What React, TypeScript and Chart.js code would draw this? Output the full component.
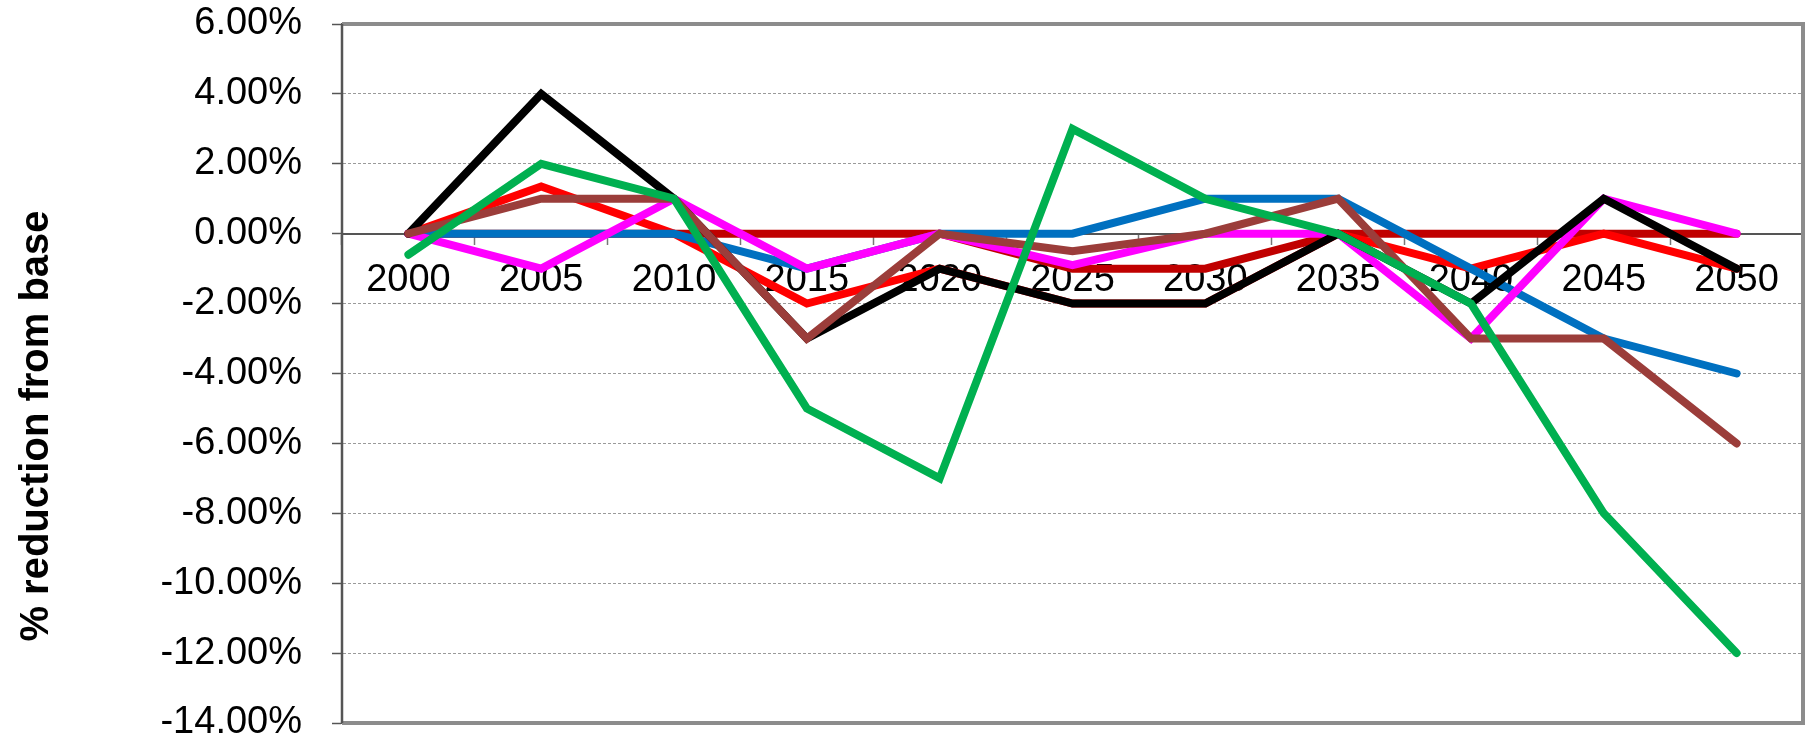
import React, { useEffect, useRef } from "react";
import { Chart, registerables } from "chart.js";

Chart.register(...registerables);

const years = ["2000", "2005", "2010", "2015", "2020", "2025", "2030", "2035", "2040", "2045", "2050"];
const darkRedSeries = [0, 0, 0, 0, 0, -1, -1, 0, 0, 0, 0];
const redSeries = [0, 1.35, 0, -2, -1, -2, -2, 0, -1, 0, -1];
const blueSeries = [0, 0, 0, -1, 0, 0, 1, 1, -1, -3, -4];
const magentaSeries = [0, -1, 1, -1, 0, -0.9, 0, 0, -3, 1, 0];
const blackSeries = [0, 4, 1, -3, -1, -2, -2, 0, -2, 1, -1];
const brownSeries = [0, 1, 1, -3, 0, -0.5, 0, 1, -3, -3, -6];
const greenSeries = [-0.6, 2, 1, -5, -7, 3, 1, 0, -2, -8, -12];

const yMin = -14;
const yMax = 6;
const yStep = 2;
const yTitle = "% reduction from base";

const FONT = "'Liberation Sans', Arial, Helvetica, sans-serif";

const frame = {
  id: "frame",
  beforeDatasetsDraw(chart: any) {
    const { ctx, chartArea } = chart;
    const { left, right, top, bottom } = chartArea;
    ctx.save();
    ctx.strokeStyle = "#8c8c8c";
    ctx.lineWidth = 4;
    ctx.beginPath();
    ctx.moveTo(left, top);
    ctx.lineTo(right, top);
    ctx.lineTo(right, bottom);
    ctx.lineTo(left, bottom);
    ctx.stroke();
    ctx.strokeStyle = "#555555";
    ctx.lineWidth = 2.5;
    ctx.beginPath();
    ctx.moveTo(left, top);
    ctx.lineTo(left, bottom);
    ctx.stroke();
    ctx.restore();
  },
  afterDraw(chart: any) {
    const { ctx } = chart;
    ctx.save();
    ctx.translate(37, 426);
    ctx.rotate(-Math.PI / 2);
    ctx.font = `bold 40px ${FONT}`;
    ctx.fillStyle = "#000000";
    ctx.textAlign = "center";
    ctx.textBaseline = "middle";
    ctx.fillText(yTitle, 0, 0);
    ctx.restore();
  },
};

export default function App() {
  const ref = useRef<HTMLCanvasElement | null>(null);

  useEffect(() => {
    if (!ref.current) return;
    const mk = (data: number[], color: string) => ({
      data,
      borderColor: color,
      backgroundColor: color,
      borderWidth: 8,
      pointRadius: 0,
      tension: 0,
      fill: false,
      borderCapStyle: "round" as const,
      borderJoinStyle: "miter" as const,
    });
    const chart = new Chart(ref.current, {
      type: "line",
      data: {
        labels: years,
        datasets: [
          mk(greenSeries, "#00B050"),
          mk(brownSeries, "#9B3D3A"),
          mk(blackSeries, "#000000"),
          mk(magentaSeries, "#FF00FF"),
          mk(blueSeries, "#0070C0"),
          mk(redSeries, "#FF0000"),
          mk(darkRedSeries, "#C00000"),
        ],
      },
      options: {
        animation: false,
        responsive: true,
        maintainAspectRatio: false,
        layout: { padding: { left: 0, top: 24, right: 2, bottom: 18 } },
        plugins: {
          legend: { display: false },
          title: { display: false },
          tooltip: { enabled: false },
        },
        scales: {
          x: {
            type: "category",
            position: { y: 0 } as any,
            offset: true,
            grid: {
              offset: true,
              drawOnChartArea: false,
              drawTicks: true,
              tickLength: 10,
              tickColor: "#777777",
              tickWidth: 1.5,
            },
            border: { display: true, color: "#555555", width: 2 },
            ticks: {
              color: "#000000",
              font: { family: FONT, size: 38 },
              padding: 14,
              maxRotation: 0,
              autoSkip: false,
            },
            afterFit: (s: any) => {
              s.paddingLeft = 0;
              s.paddingRight = 0;
            },
          },
          y: {
            min: yMin,
            max: yMax,
            position: "left",
            grid: {
              color: "#9a9a9a",
              lineWidth: 1,
              drawTicks: true,
              tickLength: 10,
              tickColor: "#555555",
              tickWidth: 1.5,
              tickBorderDash: [],
            },
            border: { display: true, color: "#555555", width: 2, dash: [3, 2] },
            ticks: {
              stepSize: yStep,
              color: "#000000",
              font: { family: FONT, size: 38 },
              padding: 30,
              callback: (v: any) => Number(v).toFixed(2) + "%",
            },
            afterFit: (s: any) => {
              s.width = 342;
              s.paddingTop = 0;
              s.paddingBottom = 0;
            },
          },
        },
      },
      plugins: [frame],
    });
    return () => chart.destroy();
  }, []);

  return (
    <div style={{ position: "fixed", left: 0, top: 0, width: 1805, height: 741, background: "#ffffff" }}>
      <canvas ref={ref} />
    </div>
  );
}
